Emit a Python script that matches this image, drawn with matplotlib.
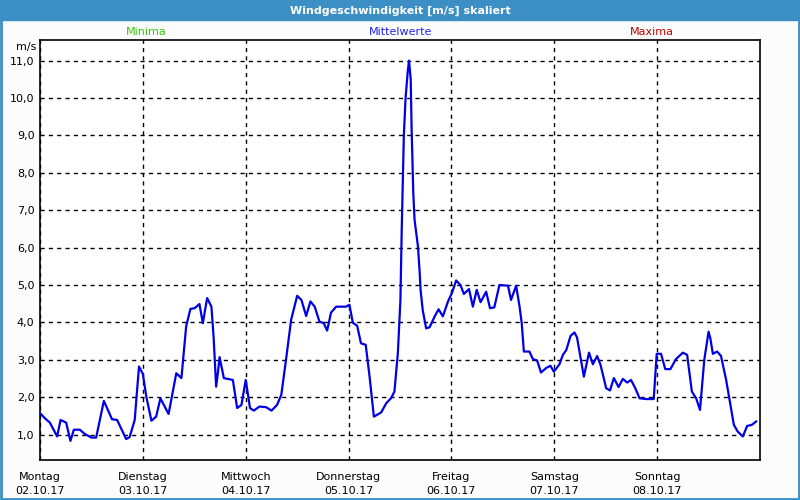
import matplotlib
matplotlib.use("Agg")
import matplotlib.pyplot as plt
from matplotlib.patches import Rectangle

# ------------------------------
# Data: hours since Monday 00:00, mean wind speed (m/s)
hours = [0.2, 1.1, 2.3, 3.0, 4.0, 4.8, 6.1, 7.1, 7.9, 9.3, 10.4, 12.0, 13.1, 14.9,
         16.8, 18.0, 20.1, 20.9, 22.1, 23.1, 24.0, 24.8, 26.0, 27.1, 28.1, 30.0,
         31.8, 33.0, 34.1, 35.1, 36.1, 37.2, 38.0, 39.0, 40.0, 40.5, 41.1, 41.5,
         41.9, 42.5, 42.9, 45.0, 46.0, 47.0, 48.0, 49.0, 49.9, 51.2, 52.8, 54.0,
         55.3, 56.3, 57.4, 58.6, 60.0, 61.0, 62.1, 63.1, 64.1, 65.2, 66.2, 67.0,
         67.9, 69.1, 71.4, 72.2, 73.0, 74.0, 74.9, 76.0, 76.9, 77.9, 79.6, 80.8,
         81.9, 82.7, 83.5, 84.1, 84.4, 84.9, 85.3, 85.8, 86.1, 86.5, 86.7, 87.1,
         87.4, 88.2, 88.6, 88.8, 89.3, 90.1, 90.9, 92.1, 93.0, 94.0, 95.2, 96.1,
         97.1, 98.1, 98.9, 100.1, 101.0, 101.9, 102.8, 104.1, 105.0, 106.0, 107.2,
         109.2, 109.9, 111.1, 111.9, 112.4, 112.9, 114.2, 115.0, 116.0, 116.9,
         118.1, 119.1, 119.9, 121.2, 122.0, 122.8, 123.8, 124.7, 125.3, 125.9,
         126.5, 126.9, 128.1, 129.0, 130.0, 130.8, 132.1, 133.0, 133.9, 135.0,
         136.0, 137.0, 137.9, 138.9, 139.9, 141.4, 143.2, 143.9, 144.9, 145.9,
         147.1, 148.4, 150.0, 151.0, 152.1, 153.1, 154.0, 155.0, 156.0, 156.4,
         157.0, 158.0, 158.9, 160.1, 161.9, 162.8, 164.0, 165.0, 166.1, 167.1]
speed = [1.55, 1.44, 1.32, 1.17, 0.95, 1.39, 1.32, 0.83, 1.13, 1.13, 1.02, 0.92,
         0.92, 1.90, 1.41, 1.39, 0.88, 0.93, 1.39, 2.82, 2.62, 2.02, 1.37, 1.48,
         1.97, 1.55, 2.64, 2.51, 3.89, 4.36, 4.38, 4.49, 3.98, 4.65, 4.42, 3.62,
         2.28, 2.64, 3.07, 2.73, 2.51, 2.46, 1.71, 1.79, 2.46, 1.71, 1.64, 1.75,
         1.73, 1.64, 1.79, 2.06, 3.00, 4.07, 4.71, 4.60, 4.17, 4.56, 4.42, 4.02,
         3.98, 3.78, 4.26, 4.42, 4.42, 4.47, 3.99, 3.91, 3.44, 3.40, 2.55, 1.48,
         1.59, 1.84, 1.97, 2.15, 3.18, 4.60, 6.47, 9.01, 10.0, 10.7, 11.0, 10.5,
         9.23, 7.46, 6.74, 6.02, 5.32, 4.87, 4.33, 3.84, 3.87, 4.16, 4.35, 4.16,
         4.56, 4.78, 5.12, 5.00, 4.76, 4.89, 4.42, 4.87, 4.54, 4.82, 4.38, 4.40,
         5.00, 4.98, 4.60, 4.98, 4.42, 3.98, 3.22, 3.22, 3.02, 2.98, 2.66, 2.78,
         2.84, 2.68, 2.88, 3.13, 3.26, 3.64, 3.73, 3.60, 3.20, 2.80, 2.55,
         3.19, 2.88, 3.10, 2.86, 2.24, 2.18, 2.51, 2.27, 2.49, 2.39, 2.46, 2.24,
         1.97, 1.95, 1.95, 3.16, 3.16, 2.75, 2.75, 3.02, 3.19, 3.13, 2.15, 1.97,
         1.66, 3.00, 3.75, 3.58, 3.16, 3.22, 3.10, 2.46, 1.26, 1.08, 0.95, 1.23,
         1.26, 1.35]

day_names = ["Montag", "Dienstag", "Mittwoch", "Donnerstag", "Freitag", "Samstag", "Sonntag"]
day_dates = ["02.10.17", "03.10.17", "04.10.17", "05.10.17", "06.10.17", "07.10.17", "08.10.17"]
y_ticks = [1, 2, 3, 4, 5, 6, 7, 8, 9, 10, 11]

# ------------------------------
# Figure frame
fig = plt.figure(figsize=(8, 5), dpi=100)
fig.patch.set_facecolor("#fcfcfc")
fig.patches.append(Rectangle((0, 0.96), 1, 0.04, transform=fig.transFigure,
                             color="#3c8fc4", zorder=0))
fig.patches.append(Rectangle((0.001, 0.002), 0.998, 0.996, transform=fig.transFigure,
                             fill=False, edgecolor="#3c8fc4", linewidth=2, zorder=5))
fig.text(0.5, 0.979, "Windgeschwindigkeit [m/s] skaliert", color="white",
         fontsize=8, weight="bold", ha="center", va="center")

fig.text(0.1825, 0.936, "Minima", color="#33cc00", fontsize=8, ha="center", va="center")
fig.text(0.501, 0.936, "Mittelwerte", color="#2222ee", fontsize=8, ha="center", va="center")
fig.text(0.815, 0.936, "Maxima", color="#c00000", fontsize=8, ha="center", va="center")

# ------------------------------
# Plot
ax = fig.add_axes([0.05, 0.08, 0.90, 0.84])
ax.set_facecolor("white")
ax.plot(hours, speed, color="#0000e6", linewidth=1.6, zorder=3)

ax.set_xlim(0, 168)
ax.set_ylim(0.32, 11.55)
ax.set_xticks([24 * i for i in range(7)])
ax.set_xticklabels([f"{n}\n{d}" for n, d in zip(day_names, day_dates)],
                   fontsize=8, linespacing=1.4)
ax.set_yticks(y_ticks)
ax.set_yticklabels([f"{v},0" for v in y_ticks], fontsize=8)
ax.tick_params(length=0, pad=4)
ax.tick_params(axis="x", pad=9)

ax.grid(True, color="black", linestyle=(0, (3, 3)), linewidth=1)
for s in ax.spines.values():
    s.set_linewidth(1.2)
    s.set_color("black")

fig.text(0.046, 0.906, "m/s", fontsize=8, ha="right", va="center")

fig.savefig("out.png", dpi=100, facecolor=fig.get_facecolor())
